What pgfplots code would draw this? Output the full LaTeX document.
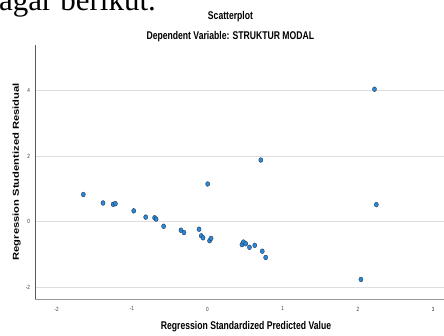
\documentclass[border=0pt]{standalone}
\usepackage{pgfplots}
\pgfplotsset{compat=1.18}
\usepackage{fontspec}
\setmainfont{Liberation Sans}
\newfontfamily\serifdoc{Liberation Serif}
\definecolor{ptfill}{RGB}{38,138,222}
\definecolor{ptedge}{RGB}{40,55,80}
\definecolor{gridc}{RGB}{222,222,222}
\begin{document}
\begin{tikzpicture}[x=1pt,y=1pt]
\path[use as bounding box,clip] (0,0) rectangle (444,336);
% fragment of document text above the chart
\node[anchor=base west,inner sep=0pt] at (-1,325) {\serifdoc\fontsize{31}{33}\selectfont agar berikut.};
% titles
\node[inner sep=0pt] at (230.5,319.3) {\scalebox{0.77}[1]{\fontsize{11.2}{12}\selectfont\bfseries Scatterplot}};
\node[inner sep=0pt] at (230.3,299.3) {\scalebox{0.77}[1]{\fontsize{11.2}{12}\selectfont\bfseries Dependent Variable: STRUKTUR MODAL}};
\node[inner sep=0pt] at (246,9) {\scalebox{0.77}[1]{\fontsize{11.2}{12}\selectfont\bfseries Regression Standardized Predicted Value}};
\node[inner sep=0pt,rotate=90] at (16.7,164.3) {\scalebox{1}[0.77]{\fontsize{11.2}{12}\selectfont\bfseries Regression Studentized Residual}};
\begin{axis}[
  at={(207.3pt,114.3pt)}, anchor=origin,
  scale only axis, width=409pt, height=254.3pt,
  xmin=-2.288, xmax=3.143, ymin=-2.366, ymax=5.387,
  axis lines*=left,
  x axis line style={draw=black!40, line width=0.9pt},
  y axis line style={draw=black!65, line width=0.8pt},
  xtick={-2,-1,0,1,2,3}, ytick={-2,0,2,4},
  major tick length=0pt,
  ymajorgrids, grid style={draw=gridc, line width=1pt},
  /pgf/number format/assume math mode=true,
  tick label style={font=\fontsize{6}{7}\selectfont, text=black!80},
  xticklabel={\scalebox{0.77}[1]{\pgfmathprintnumber{\tick}}},
  yticklabel={\scalebox{0.77}[1]{\pgfmathprintnumber{\tick}}},
  xticklabel shift=4pt, yticklabel shift=1.5pt,
  clip=false,
]
\addplot[only marks, mark=*, mark size=2.4pt,
  mark options={fill=ptfill, draw=ptedge, line width=0.4pt, xscale=0.85}]
coordinates {
(-1.646,0.83) (-1.385,0.57) (-1.25,0.53) (-1.22,0.55) (-0.977,0.33)
(-0.818,0.14) (-0.70,0.12) (-0.68,0.08) (-0.58,-0.14) (-0.35,-0.26)
(-0.31,-0.33) (-0.11,-0.23) (-0.08,-0.43) (-0.057,-0.49) (0.03,-0.58)
(0.05,-0.51) (0.005,1.15) (0.46,-0.70) (0.48,-0.62) (0.51,-0.67)
(0.56,-0.78) (0.63,-0.72) (0.73,-0.90) (0.775,-1.09) (0.71,1.88)
(2.22,4.04) (2.245,0.52) (2.04,-1.76)
};
\end{axis}
\end{tikzpicture}
\end{document}
